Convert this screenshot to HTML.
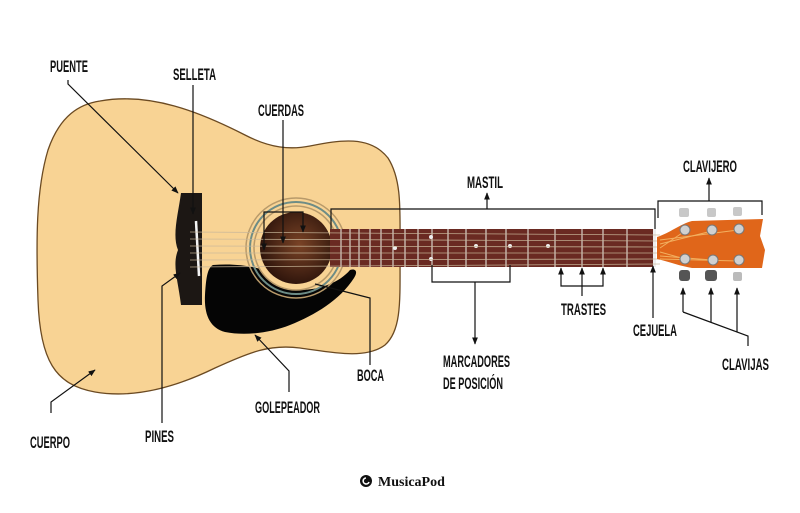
<!DOCTYPE html>
<html><head><meta charset="utf-8"><style>
html,body{margin:0;padding:0;background:#fff}
svg{display:block}
text{font-family:"Liberation Sans Narrow","Liberation Sans",sans-serif;font-weight:bold;font-size:17px;fill:#111}
</style></head><body>
<svg width="800" height="513" viewBox="0 0 800 513" xmlns="http://www.w3.org/2000/svg">
<defs>
<marker id="a" viewBox="0 0 10 10" refX="9" refY="5" markerWidth="6" markerHeight="6" orient="auto-start-reverse"><path d="M0,1 L10,5 L0,9 z" fill="#111"/></marker>
<radialGradient id="hole" cx="0.55" cy="0.45" r="0.6"><stop offset="0" stop-color="#7a4326"/><stop offset="1" stop-color="#2a120a"/></radialGradient>
</defs>
<path d="M100,101 C150,92 200,112 245,135 C270,148 290,150 310,146 C340,140 370,135 388,158 C402,180 400,210 400,250 C400,300 402,330 385,345 C365,360 330,352 300,348 C270,344 250,352 215,368 C170,390 130,398 95,392 C55,385 40,360 38,300 C36,240 36,190 48,150 C60,115 80,104 100,101 Z" fill="#f8d394" stroke="#6b4a22" stroke-width="1.3"/>
<path d="M213,265 C250,262 280,272 300,290 C320,290 340,282 350,270 C356,268 358,272 354,278 C340,300 315,315 290,325 C270,333 245,336 225,332 C210,328 204,315 205,295 C206,280 207,268 213,265 Z" fill="#050505"/>
<circle cx="296" cy="248" r="50" fill="none" stroke="#b89a6a" stroke-width="1.5"/>
<circle cx="296" cy="248" r="46" fill="none" stroke="#6d8c86" stroke-width="2"/>
<circle cx="296" cy="248" r="42" fill="#f8d394" stroke="#b89a6a" stroke-width="1.5"/>
<circle cx="296" cy="248" r="36" fill="url(#hole)"/>
<path d="M181,193 L202,193 L202,305 L181,305 C178,280 172,265 178,250 C172,235 178,215 181,193 Z" fill="#1c1714"/>
<line x1="196" y1="221" x2="199" y2="276" stroke="#f4f4f4" stroke-width="2.5"/>
<rect x="330" y="229" width="325" height="38" fill="#6a2a22"/>
<g stroke="#d8d0c8" stroke-width="1.2">
<line x1="341" y1="229" x2="341" y2="267"/><line x1="350" y1="229" x2="350" y2="267"/><line x1="359" y1="229" x2="359" y2="267"/><line x1="370" y1="229" x2="370" y2="267"/><line x1="381" y1="229" x2="381" y2="267"/><line x1="393" y1="229" x2="393" y2="267"/><line x1="405" y1="229" x2="405" y2="267"/><line x1="418" y1="229" x2="418" y2="267"/><line x1="432" y1="229" x2="432" y2="267"/><line x1="448" y1="229" x2="448" y2="267"/><line x1="466" y1="229" x2="466" y2="267"/><line x1="486" y1="229" x2="486" y2="267"/><line x1="506" y1="229" x2="506" y2="267"/><line x1="528" y1="229" x2="528" y2="267"/><line x1="555" y1="229" x2="555" y2="267"/><line x1="582" y1="229" x2="582" y2="267"/><line x1="603" y1="229" x2="603" y2="267"/><line x1="627" y1="229" x2="627" y2="267"/>
</g>
<g fill="#eee"><circle cx="395" cy="248" r="2"/><circle cx="431" cy="237" r="2"/><circle cx="431" cy="259" r="2"/><circle cx="476" cy="246" r="2"/><circle cx="510" cy="246" r="2"/><circle cx="548" cy="246" r="2"/></g>
<rect x="653" y="229" width="3" height="38" fill="#eee"/>
<g stroke="#c9b79a" stroke-width="0.8" opacity="0.9">
<line x1="190" y1="232" x2="660" y2="235"/><line x1="190" y1="239" x2="660" y2="241"/><line x1="190" y1="246" x2="660" y2="247"/><line x1="190" y1="253" x2="660" y2="253"/><line x1="190" y1="260" x2="660" y2="259"/><line x1="190" y1="267" x2="660" y2="264"/>
</g>
<path d="M657,237 C670,233 680,224 692,221 L763,219 L760,236 L765,250 L762,268 L692,268 C680,266 670,262 657,259 Z" fill="#e0661a"/>
<g stroke="#f2b060" stroke-width="1"><line x1="660" y1="240" x2="738" y2="230"/><line x1="660" y1="244" x2="712" y2="231"/><line x1="660" y1="248" x2="685" y2="231"/><line x1="660" y1="252" x2="685" y2="259"/><line x1="660" y1="256" x2="712" y2="260"/><line x1="660" y1="259" x2="738" y2="261"/></g>
<g fill="#d0d0d0" stroke="#777" stroke-width="1">
<circle cx="685" cy="230" r="5"/><circle cx="712" cy="230" r="5"/><circle cx="739" cy="229" r="5"/>
<circle cx="685" cy="259" r="5"/><circle cx="713" cy="260" r="5"/><circle cx="739" cy="260" r="5"/>
</g>
<g fill="#c8c8c8"><rect x="679" y="208" width="10" height="9" rx="2"/><rect x="707" y="208" width="9" height="9" rx="2"/><rect x="733" y="207" width="9" height="9" rx="2"/></g>
<g fill="#555"><rect x="679" y="270" width="11" height="11" rx="3"/><rect x="705" y="270" width="12" height="11" rx="3"/></g>
<rect x="733" y="272" width="9" height="9" rx="2" fill="#bbb"/>
<g stroke="#111" stroke-width="1.2" fill="none">
<polyline points="68,80 68,84 178,193" marker-end="url(#a)"/>
<line x1="193" y1="85" x2="193" y2="214" marker-end="url(#a)"/>
<line x1="283" y1="120" x2="283" y2="243" marker-end="url(#a)"/>
<polyline points="264,250 264,212 303,212 303,232" marker-end="url(#a)" marker-start="url(#a)"/>
<line x1="487" y1="209" x2="487" y2="193" marker-end="url(#a)"/>
<polyline points="331,229 331,209 655,209 655,229"/>
<line x1="709" y1="201" x2="709" y2="178" marker-end="url(#a)"/>
<polyline points="658,218 658,201 762,201 762,215"/>
<polyline points="432,265 432,282 510,282 510,265"/>
<line x1="475" y1="282" x2="475" y2="344" marker-end="url(#a)"/>
<polyline points="561,268 561,286 603,286 603,268" marker-start="url(#a)" marker-end="url(#a)"/>
<line x1="582" y1="296" x2="582" y2="268" marker-end="url(#a)"/>
<line x1="653" y1="318" x2="653" y2="266" marker-end="url(#a)"/>
<polyline points="683,312 748,336 748,346"/>
<line x1="683" y1="312" x2="683" y2="288" marker-end="url(#a)"/>
<line x1="711" y1="322" x2="711" y2="288" marker-end="url(#a)"/>
<line x1="737" y1="332" x2="737" y2="288" marker-end="url(#a)"/>
<polyline points="370,365 370,298 315,284"/>
<polyline points="289,392 289,371 255,335" marker-end="url(#a)"/>
<polyline points="162,423 162,286 180,273" marker-end="url(#a)"/>
<polyline points="51,413 51,402 95,370" marker-end="url(#a)"/>
</g>
<g>
<text x="50" y="72" textLength="38" lengthAdjust="spacingAndGlyphs">PUENTE</text>
<text x="173" y="80" textLength="43" lengthAdjust="spacingAndGlyphs">SELLETA</text>
<text x="258" y="116" textLength="46" lengthAdjust="spacingAndGlyphs">CUERDAS</text>
<text x="467" y="188" textLength="36" lengthAdjust="spacingAndGlyphs">MASTIL</text>
<text x="683" y="172" textLength="54" lengthAdjust="spacingAndGlyphs">CLAVIJERO</text>
<text x="561" y="315" textLength="45" lengthAdjust="spacingAndGlyphs">TRASTES</text>
<text x="633" y="336" textLength="44" lengthAdjust="spacingAndGlyphs">CEJUELA</text>
<text x="722" y="370" textLength="47" lengthAdjust="spacingAndGlyphs">CLAVIJAS</text>
<text x="443" y="367" textLength="67" lengthAdjust="spacingAndGlyphs">MARCADORES</text>
<text x="443" y="389" textLength="60" lengthAdjust="spacingAndGlyphs">DE POSICIÓN</text>
<text x="357" y="381" textLength="27" lengthAdjust="spacingAndGlyphs">BOCA</text>
<text x="255" y="413" textLength="65" lengthAdjust="spacingAndGlyphs">GOLEPEADOR</text>
<text x="145" y="442" textLength="29" lengthAdjust="spacingAndGlyphs">PINES</text>
<text x="30" y="448" textLength="40" lengthAdjust="spacingAndGlyphs">CUERPO</text>
</g>
<circle cx="366" cy="481" r="6" fill="#111"/>
<path d="M366,478 a3,3 0 1,0 3,4" stroke="#fff" stroke-width="1.6" fill="none"/>
<text x="378" y="486" style="font-family:'Liberation Serif',serif;font-size:14px">MusicaPod</text>
</svg>
</body></html>
